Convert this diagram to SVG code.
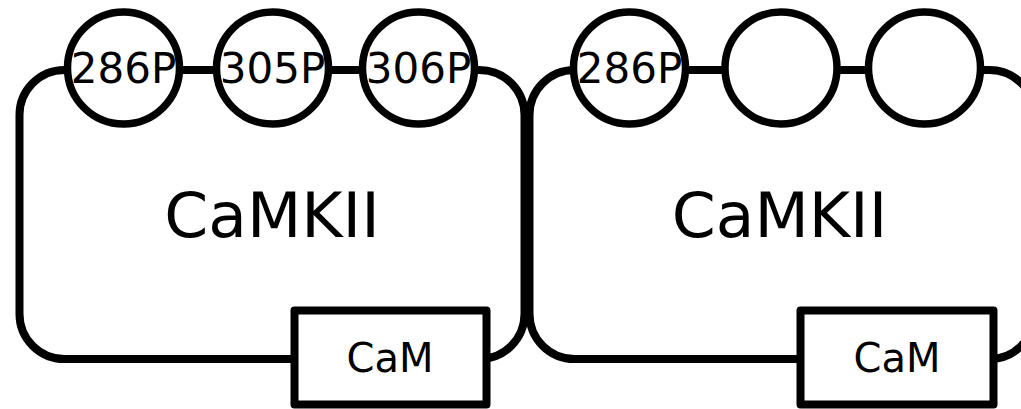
<svg xmlns="http://www.w3.org/2000/svg" width="1021" height="409" viewBox="0 0 1021 409">
  <style>
    .body { fill: none; stroke: #000; stroke-width: 8; }
    .site { fill: #fff; stroke: #000; stroke-width: 7.5; }
    .link { stroke: #000; stroke-width: 7.5; }
    .cam { fill: #fff; stroke: #000; stroke-width: 8; stroke-linejoin: round; }
    text { font-family: "DejaVu Sans", "Liberation Sans", sans-serif; fill: #000; text-anchor: middle; }
    .big { font-size: 63px; }
    .lbl { font-size: 42px; }
    .camt { font-size: 40px; }
  </style>
  <rect width="1021" height="409" fill="#fff"/>

  <!-- subunit bodies -->
  <g id="subunit-1-body">
    <rect class="body" x="19.5" y="70" width="505" height="289" rx="45" ry="45"/>
  </g>
  <g id="subunit-2-body">
    <rect class="body" x="529.5" y="70" width="505" height="289" rx="45" ry="45"/>
  </g>

  <!-- bonds between phospho-sites -->
  <g id="connectors">
    <line class="link" x1="178" y1="70" x2="218" y2="70"/>
    <line class="link" x1="327" y1="70" x2="364" y2="70"/>
    <line class="link" x1="684" y1="70" x2="726" y2="70"/>
    <line class="link" x1="836" y1="70" x2="870" y2="70"/>
  </g>

  <!-- subunit 1 -->
  <g id="s1-286P">
    <circle class="site" cx="123.5" cy="68" r="56"/>
    <text class="lbl" x="123.5" y="83">286P</text>
  </g>
  <g id="s1-305P">
    <circle class="site" cx="272.5" cy="68" r="56"/>
    <text class="lbl" x="272.5" y="83">305P</text>
  </g>
  <g id="s1-306P">
    <circle class="site" cx="418.5" cy="68" r="56"/>
    <text class="lbl" x="418.5" y="83">306P</text>
  </g>
  <g id="s1-label">
    <text class="big" x="272" y="237">CaMKII</text>
  </g>
  <g id="s1-CaM">
    <rect class="cam" x="294.5" y="310.5" width="192" height="94"/>
    <text class="camt" x="390" y="372">CaM</text>
  </g>

  <!-- subunit 2 -->
  <g id="s2-286P">
    <circle class="site" cx="629.5" cy="68" r="56"/>
    <text class="lbl" x="629.5" y="83">286P</text>
  </g>
  <g id="s2-site2">
    <circle class="site" cx="781" cy="68" r="56"/>
  </g>
  <g id="s2-site3">
    <circle class="site" cx="924.5" cy="68" r="56"/>
  </g>
  <g id="s2-label">
    <text class="big" x="779.5" y="237">CaMKII</text>
  </g>
  <g id="s2-CaM">
    <rect class="cam" x="800.5" y="310.5" width="193" height="94"/>
    <text class="camt" x="897" y="372">CaM</text>
  </g>
</svg>
